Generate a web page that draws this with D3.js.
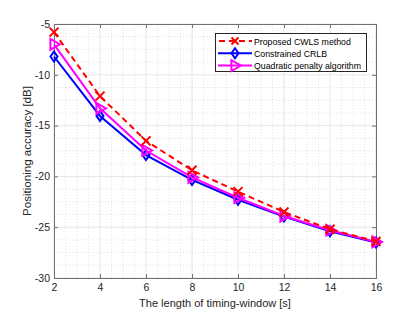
<!DOCTYPE html>
<html><head><meta charset="utf-8">
<script src="https://cdn.jsdelivr.net/npm/d3@7"></script>
<style>body{margin:0;background:#fff}svg{display:block}text{font-family:"Liberation Sans",Arial,sans-serif}</style>
</head><body><svg id="c" width="415" height="312"></svg>
<script>
const xs = [2, 4, 6, 8, 10, 12, 14, 16];
const proposed = [-5.8, -12.1, -16.5, -19.4, -21.5, -23.5, -25.2, -26.4];
const crlb = [-8.2, -14.05, -17.9, -20.35, -22.3, -23.95, -25.4, -26.5];
const quadratic = [-7.0, -13.3, -17.45, -20.1, -22.1, -23.9, -25.3, -26.45];
const xTicks = [2, 4, 6, 8, 10, 12, 14, 16];
const yTicks = [-30, -25, -20, -15, -10, -5];
const legendLabels = ["Proposed CWLS method", "Constrained CRLB", "Quadratic penalty algorithm"];

const svg = d3.select("#c");
const L = 54, R = 376, T = 24, B = 278;
const x = d3.scaleLinear().domain([2, 16]).range([L, R]);
const y = d3.scaleLinear().domain([-30, -5]).range([B, T]);

function fitWidth(sel, w) {
  const n = sel.node();
  const cur = n.getComputedTextLength();
  const fs = parseFloat(sel.attr("font-size"));
  sel.attr("font-size", (fs * w / cur).toFixed(2));
}

// minor grid
const g = svg.append("g");
d3.range(2, 16.01, 0.5).forEach(v => {
  if (v % 2 !== 0) g.append("line").attr("x1", x(v)).attr("x2", x(v)).attr("y1", T).attr("y2", B)
    .attr("stroke", "#cfcfcf").attr("stroke-width", 0.6).attr("stroke-dasharray", "1,2");
});
d3.range(-30, -4.99, 1.25).forEach(v => {
  if (Math.abs(v % 5) > 1e-6) g.append("line").attr("y1", y(v)).attr("y2", y(v)).attr("x1", L).attr("x2", R)
    .attr("stroke", "#cfcfcf").attr("stroke-width", 0.6).attr("stroke-dasharray", "1,2");
});
// major grid
xTicks.forEach(v => g.append("line").attr("x1", x(v)).attr("x2", x(v)).attr("y1", T).attr("y2", B).attr("stroke", "#e6e6e6").attr("stroke-width", 1));
yTicks.forEach(v => g.append("line").attr("y1", y(v)).attr("y2", y(v)).attr("x1", L).attr("x2", R).attr("stroke", "#e6e6e6").attr("stroke-width", 1));

// axes
const ax = svg.append("g").attr("transform", `translate(0,${B})`)
  .call(d3.axisBottom(x).tickValues(xTicks).tickSize(-4).tickPadding(6).tickFormat(d3.format("d")));
const ay = svg.append("g").attr("transform", `translate(${L},0)`)
  .call(d3.axisLeft(y).tickValues(yTicks).tickSize(-4).tickPadding(4).tickFormat(d => String(d)));
const at = svg.append("g").attr("transform", `translate(0,${T})`)
  .call(d3.axisTop(x).tickValues(xTicks).tickSize(-4).tickFormat(""));
const ar = svg.append("g").attr("transform", `translate(${R},0)`)
  .call(d3.axisRight(y).tickValues(yTicks).tickSize(-4).tickFormat(""));
[ax, ay, at, ar].forEach(a => {
  a.selectAll("path").attr("stroke", "#707070").attr("stroke-width", 1);
  a.selectAll("line").attr("stroke", "#707070");
  a.selectAll("text").attr("fill", "#262626").attr("font-size", 10.5);
});

// axis labels
const xl = svg.append("text").attr("x", (L + R) / 2).attr("y", 307).attr("text-anchor", "middle")
  .attr("font-size", 11.5).attr("fill", "#262626").text("The length of timing-window [s]");
fitWidth(xl, 152);
const yl = svg.append("text").attr("transform", `translate(31,${(T + B) / 2}) rotate(-90)`).attr("text-anchor", "middle")
  .attr("font-size", 11.5).attr("fill", "#262626").text("Positioning accuracy [dB]");
fitWidth(yl, 130);

const line = d3.line().x((d, i) => x(xs[i])).y(d => y(d));
const clip = svg.append("g");

function drawX(sel, cx, cy, s, col) {
  sel.append("path").attr("d", `M${cx - s},${cy - s}L${cx + s},${cy + s}M${cx - s},${cy + s}L${cx + s},${cy - s}`)
    .attr("stroke", col).attr("stroke-width", 2).attr("fill", "none");
}
function drawDiamond(sel, cx, cy, s, col) {
  sel.append("path").attr("d", `M${cx},${cy - s}L${cx + s * 0.7},${cy}L${cx},${cy + s}L${cx - s * 0.7},${cy}Z`)
    .attr("stroke", col).attr("stroke-width", 2).attr("fill", "none");
}
function drawTri(sel, cx, cy, s, col) {
  sel.append("path").attr("d", `M${cx + s},${cy}L${cx - s * 0.6},${cy - s * 0.9}L${cx - s * 0.6},${cy + s * 0.9}Z`)
    .attr("stroke", col).attr("stroke-width", 2).attr("fill", "none");
}

// CRLB (blue)
clip.append("path").attr("d", line(crlb)).attr("stroke", "#0000ff").attr("stroke-width", 2).attr("fill", "none");
crlb.forEach((v, i) => drawDiamond(clip, x(xs[i]), y(v), 5, "#0000ff"));
// Quadratic (magenta)
clip.append("path").attr("d", line(quadratic)).attr("stroke", "#ff00ff").attr("stroke-width", 2).attr("fill", "none");
quadratic.forEach((v, i) => drawTri(clip, x(xs[i]), y(v), 6, "#ff00ff"));
// Proposed (red dashed)
clip.append("path").attr("d", line(proposed)).attr("stroke", "#ff0000").attr("stroke-width", 2).attr("fill", "none").attr("stroke-dasharray", "6,4");
proposed.forEach((v, i) => drawX(clip, x(xs[i]), y(v), 4.5, "#ff0000"));

// legend
const lg = svg.append("g");
lg.append("rect").attr("x", 215.5).attr("y", 33.5).attr("width", 151).attr("height", 38)
  .attr("fill", "#fff").attr("stroke", "#262626").attr("stroke-width", 1);
const rows = [41, 53.2, 65.6];
const cols = ["#ff0000", "#0000ff", "#ff00ff"];
const lts = [];
rows.forEach((ry, i) => {
  const p = lg.append("path").attr("d", `M218,${ry}L252,${ry}`).attr("stroke", cols[i]).attr("stroke-width", 2).attr("fill", "none");
  if (i === 0) p.attr("stroke-dasharray", "6,4").attr("stroke-dashoffset", -1);
  if (i === 0) drawX(lg, 235, ry, 3.5, cols[i]);
  if (i === 1) drawDiamond(lg, 235, ry, 5, cols[i]);
  if (i === 2) drawTri(lg, 235, ry, 6, cols[i]);
  lts.push(lg.append("text").attr("x", 254).attr("y", ry + 3.7).attr("font-size", 9.8).attr("fill", "#000").text(legendLabels[i]));
});
const s0 = lts[2].node().getComputedTextLength();
const ratio = 107 / s0;
lts.forEach(t => {
  const w = t.node().getComputedTextLength() * ratio;
  t.attr("textLength", w.toFixed(1)).attr("lengthAdjust", "spacingAndGlyphs");
});
</script></body></html>
